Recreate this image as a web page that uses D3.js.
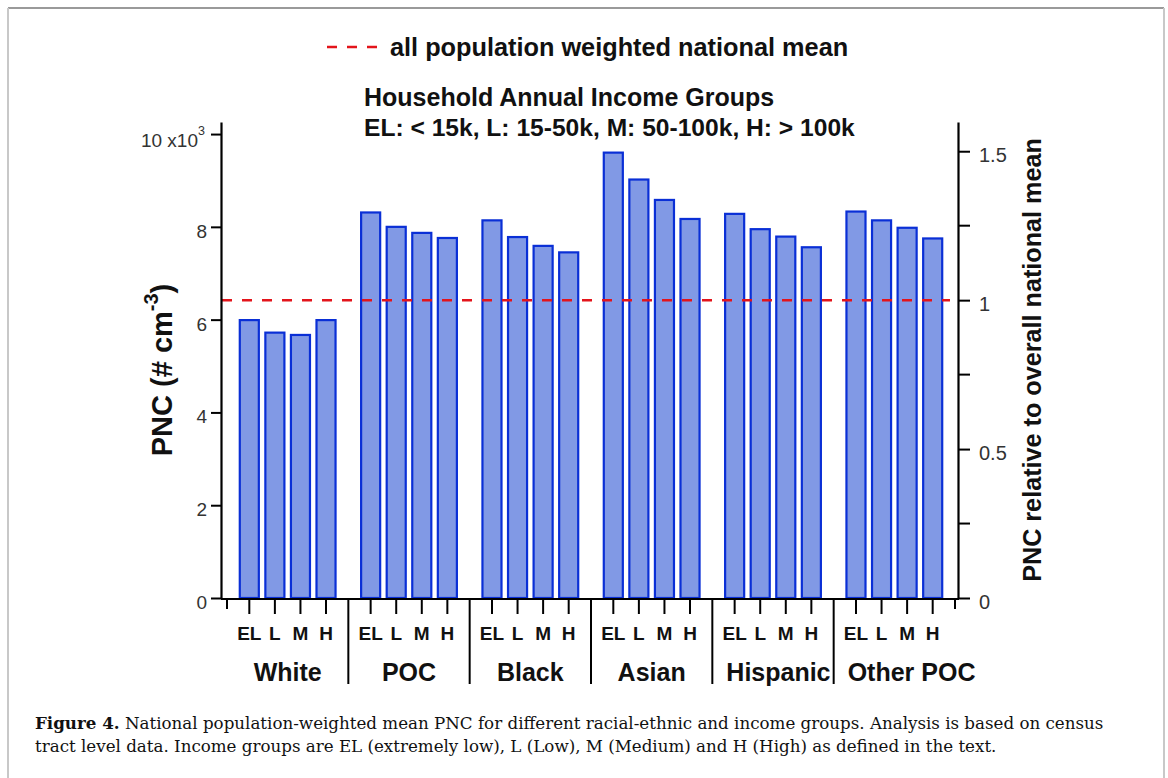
<!DOCTYPE html>
<html>
<head>
<meta charset="utf-8">
<script src="https://cdn.jsdelivr.net/npm/d3@7"></script>
<style>
  html, body { margin: 0; padding: 0; background: #fff; }
  svg { display: block; }
</style>
</head>
<body>
<svg id="chart" width="1168" height="778"></svg>
<script>
// ---------- data ----------
const groups = ["White", "POC", "Black", "Asian", "Hispanic", "Other POC"];
const incomes = ["EL", "L", "M", "H"];
const valuesWhite    = [5.99, 5.72, 5.67, 5.99];
const valuesPOC      = [8.31, 8.00, 7.87, 7.76];
const valuesBlack    = [8.14, 7.78, 7.59, 7.45];
const valuesAsian    = [9.60, 9.02, 8.58, 8.17];
const valuesHispanic = [8.28, 7.95, 7.79, 7.56];
const valuesOtherPOC = [8.33, 8.14, 7.98, 7.75];
const nationalMean = 6.42;
const leftTicks = [0, 2, 4, 6, 8, 10];
const rightMajorTicks = [0, 0.5, 1, 1.5];
const rightMinorTicks = [0.25, 0.75, 1.25];

const seriesByGroup = [valuesWhite, valuesPOC, valuesBlack, valuesAsian, valuesHispanic, valuesOtherPOC];
const rows = [];
groups.forEach((g, gi) => incomes.forEach((inc, ii) => rows.push({group: g, income: inc, value: seriesByGroup[gi][ii]})));

// ---------- layout ----------
const svg = d3.select("#chart");
const FONT = "Arial, 'Liberation Sans', Helvetica, sans-serif";
const SERIF = "'DejaVu Serif', 'Liberation Serif', serif";

const plotLeft = 221, plotRight = 958, plotBottom = 598, plotTop = 122;
const yMax = 10.26;

const yL = d3.scaleLinear().domain([0, yMax]).range([plotBottom, plotTop]);
const yR = d3.scaleLinear().domain([0, yMax / nationalMean]).range([plotBottom, plotTop]);
const x0 = d3.scaleBand().domain(groups).range([227, 955]).paddingInner(0).paddingOuter(0);
const x1 = d3.scaleBand().domain(incomes).range([0, x0.bandwidth()]).paddingInner(0.255).paddingOuter(0.5);

// frame
svg.append("line").attr("x1", 8).attr("x2", 1164).attr("y1", 8).attr("y2", 8).attr("stroke", "#9a9a9a").attr("stroke-width", 2);
svg.append("line").attr("x1", 8).attr("x2", 8).attr("y1", 8).attr("y2", 778).attr("stroke", "#c8c8c8").attr("stroke-width", 2);
svg.append("line").attr("x1", 1164).attr("x2", 1164).attr("y1", 8).attr("y2", 778).attr("stroke", "#c8c8c8").attr("stroke-width", 2);

// bars
svg.append("g").selectAll("rect").data(rows).join("rect")
  .attr("x", d => x0(d.group) + x1(d.income))
  .attr("width", x1.bandwidth())
  .attr("y", d => yL(d.value))
  .attr("height", d => yL(0) - yL(d.value))
  .attr("fill", "#8199e5")
  .attr("stroke", "#0a2fd6")
  .attr("stroke-width", 2.2);

// mean line
svg.append("line")
  .attr("x1", plotLeft + 1).attr("x2", 950)
  .attr("y1", yL(nationalMean)).attr("y2", yL(nationalMean))
  .attr("stroke", "#e3141b").attr("stroke-width", 2.5).attr("stroke-dasharray", "10,10");

// left axis
const axL = svg.append("g").attr("transform", `translate(${plotLeft},0)`)
  .call(d3.axisLeft(yL).tickValues(leftTicks).tickSize(10).tickSizeOuter(0).tickPadding(4)
    .tickFormat(d => d === 10 ? "" : d));
axL.select(".domain").attr("stroke", "#000").attr("stroke-width", 2.2);
axL.selectAll(".tick line").attr("stroke", "#000").attr("stroke-width", 2);
axL.selectAll(".tick text").attr("font-family", FONT).attr("font-size", 19).attr("fill", "#333").attr("dy", "0.55em");
svg.append("text").attr("font-family", FONT).attr("font-size", 19).attr("fill", "#333")
  .attr("text-anchor", "end").attr("x", 198).attr("y", yL(10) + 13).text("10 x10");
svg.append("text").attr("font-family", FONT).attr("font-size", 12.5).attr("fill", "#333")
  .attr("x", 198).attr("y", yL(10) + 1).text("3");

// right axis
const axR = svg.append("g").attr("transform", `translate(${plotRight},0)`)
  .call(d3.axisRight(yR).tickValues(rightMajorTicks).tickSize(12).tickSizeOuter(0).tickPadding(9)
    .tickFormat(d3.format("")));
axR.select(".domain").attr("stroke", "#000").attr("stroke-width", 2.2);
axR.selectAll(".tick line").attr("stroke", "#000").attr("stroke-width", 2);
axR.selectAll(".tick text").attr("font-family", FONT).attr("font-size", 20).attr("fill", "#333").attr("dy", "0.5em");
svg.append("g").selectAll("line").data(rightMinorTicks).join("line")
  .attr("x1", plotRight).attr("x2", plotRight + 12)
  .attr("y1", d => yR(d)).attr("y2", d => yR(d))
  .attr("stroke", "#000").attr("stroke-width", 2);

// bottom axis line
svg.append("line").attr("x1", plotLeft).attr("x2", plotRight + 1).attr("y1", plotBottom + 1).attr("y2", plotBottom + 1)
  .attr("stroke", "#000").attr("stroke-width", 2.2);
// major ticks at bars
svg.append("g").selectAll("line").data(rows).join("line")
  .attr("x1", d => x0(d.group) + x1(d.income) + x1.bandwidth() / 2)
  .attr("x2", d => x0(d.group) + x1(d.income) + x1.bandwidth() / 2)
  .attr("y1", plotBottom + 1).attr("y2", plotBottom + 16)
  .attr("stroke", "#000").attr("stroke-width", 2);
// group boundary ticks / separators
const boundaries = groups.map(g => x0(g)).concat([x0.range()[1]]);
svg.append("g").selectAll("line").data(boundaries).join("line")
  .attr("x1", d => d).attr("x2", d => d)
  .attr("y1", plotBottom + 1)
  .attr("y2", (d, i) => (i === 0 || i === boundaries.length - 1) ? plotBottom + 11 : 684)
  .attr("stroke", "#000").attr("stroke-width", 2);

// income labels
svg.append("g").selectAll("text").data(rows).join("text")
  .attr("x", d => x0(d.group) + x1(d.income) + x1.bandwidth() / 2)
  .attr("y", 640)
  .attr("text-anchor", "middle")
  .attr("font-family", FONT).attr("font-weight", "bold").attr("font-size", 19).attr("fill", "#111")
  .text(d => d.income);
// group labels (shifted right if they would collide with the left separator)
svg.append("g").selectAll("text").data(groups).join("text")
  .attr("y", 681)
  .attr("text-anchor", "middle")
  .attr("font-family", FONT).attr("font-weight", "bold").attr("font-size", 25).attr("fill", "#111")
  .text(d => d)
  .attr("x", function(d) {
    const w = this.getComputedTextLength();
    const c = x0(d) + x0.bandwidth() / 2;
    return Math.max(c, x0(d) + 14 + w / 2);
  });

// left axis title
const yt = svg.append("text")
  .attr("transform", "translate(172,370) rotate(-90)")
  .attr("text-anchor", "middle")
  .attr("font-family", FONT).attr("font-weight", "bold").attr("font-size", 29).attr("fill", "#111");
yt.append("tspan").text("PNC (# cm");
yt.append("tspan").attr("font-size", 20).attr("dy", -14).text("-3");
yt.append("tspan").attr("dy", 14).text(")");

// right axis title
svg.append("text")
  .attr("transform", "translate(1041,360) rotate(-90)")
  .attr("text-anchor", "middle")
  .attr("font-family", FONT).attr("font-weight", "bold").attr("font-size", 25.2).attr("fill", "#111")
  .text("PNC relative to overall national mean");

// legend
svg.append("line").attr("x1", 327).attr("x2", 377).attr("y1", 47).attr("y2", 47)
  .attr("stroke", "#e3141b").attr("stroke-width", 2.5).attr("stroke-dasharray", "10,10");
svg.append("text").attr("x", 390).attr("y", 56)
  .attr("font-family", FONT).attr("font-weight", "bold").attr("font-size", 25.3).attr("fill", "#111")
  .text("all population weighted national mean");

// income group titles
svg.append("text").attr("x", 364).attr("y", 106)
  .attr("font-family", FONT).attr("font-weight", "bold").attr("font-size", 25).attr("fill", "#111")
  .text("Household Annual Income Groups");
svg.append("text").attr("x", 364).attr("y", 136)
  .attr("font-family", FONT).attr("font-weight", "bold").attr("font-size", 24.6).attr("fill", "#111")
  .text("EL: < 15k, L: 15-50k, M: 50-100k, H: > 100k");

// caption
const cap1 = svg.append("text").attr("x", 35).attr("y", 729)
  .attr("font-family", SERIF).attr("font-size", 16.7).attr("fill", "#111");
cap1.append("tspan").attr("font-weight", "bold").text("Figure 4.");
cap1.append("tspan").text(" National population-weighted mean PNC for different racial-ethnic and income groups. Analysis is based on census");
svg.append("text").attr("x", 35).attr("y", 752)
  .attr("font-family", SERIF).attr("font-size", 16.7).attr("fill", "#111")
  .text("tract level data. Income groups are EL (extremely low), L (Low), M (Medium) and H (High) as defined in the text.");
</script>
</body>
</html>
